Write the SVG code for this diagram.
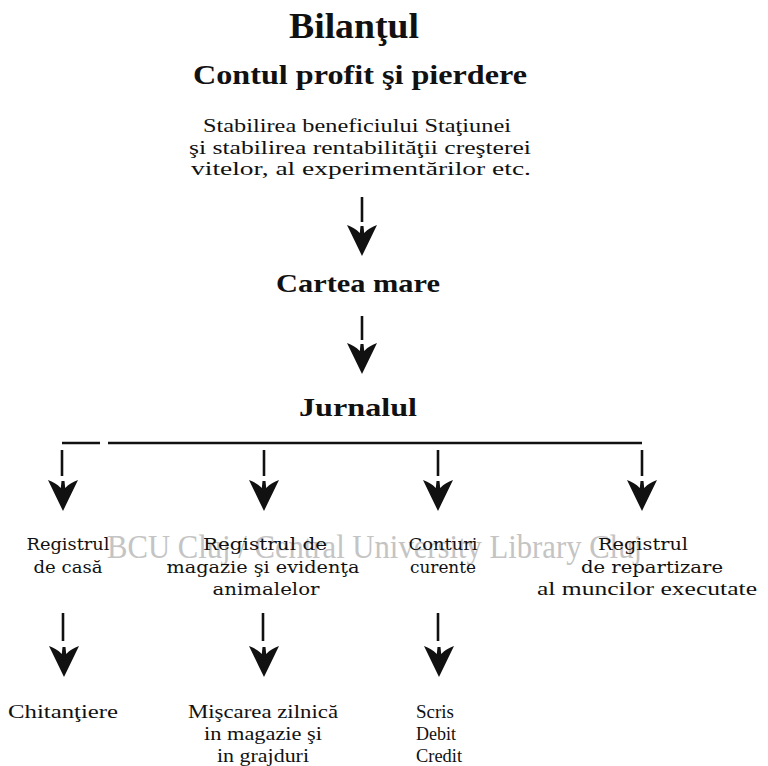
<svg xmlns="http://www.w3.org/2000/svg" xmlns:xlink="http://www.w3.org/1999/xlink" width="768" height="766" viewBox="0 0 768 766">
<style>
text{fill:#111;}
.h{font-family:"Liberation Serif","Times New Roman",serif;font-weight:bold;text-anchor:middle;}
.b{font-family:"Liberation Serif","Times New Roman",serif;font-size:18px;text-anchor:middle;}
.s{text-anchor:start;}
.l{font-family:"DejaVu Serif","Liberation Serif",serif;font-size:16px;text-anchor:middle;}
.wm{font-family:"Liberation Serif","Times New Roman",serif;font-size:34px;fill:#c4c4c4;}
.ln{stroke:#111;stroke-width:2.6;fill:none;}
.hd{fill:#111;}
</style>
<defs>
<path id="ah" d="M0,31 C-5,21 -10,10 -15,0 C-10,2 -6,4 -2.2,8 L-1.5,1 L1.5,1 L2.2,8 C6,4 10,2 15,0 C10,10 5,21 0,31 Z"/>
</defs>
<rect width="768" height="766" fill="#fff"/>
<text class="wm" x="107" y="558" textLength="535" lengthAdjust="spacingAndGlyphs">BCU Cluj / Central University Library Cluj</text>

<g id="bilant"><text class="h" x="354" y="38" font-size="36" textLength="130" lengthAdjust="spacingAndGlyphs">Bilanţul</text></g>
<g id="contul"><text class="h" x="360" y="84" font-size="28" textLength="334" lengthAdjust="spacingAndGlyphs">Contul profit şi pierdere</text></g>
<g id="stabilirea">
<text class="b" x="357" y="132" textLength="308" lengthAdjust="spacingAndGlyphs">Stabilirea beneficiului Staţiunei</text>
<text class="b" x="360" y="154" textLength="342" lengthAdjust="spacingAndGlyphs">şi stabilirea rentabilităţii creşterei</text>
<text class="b" x="361" y="175" textLength="340" lengthAdjust="spacingAndGlyphs">vitelor, al experimentărilor etc.</text>
</g>
<g id="cartea"><text class="h" x="358" y="292" font-size="25" textLength="164" lengthAdjust="spacingAndGlyphs">Cartea mare</text></g>
<g id="jurnalul"><text class="h" x="358" y="416" font-size="25" textLength="118" lengthAdjust="spacingAndGlyphs">Jurnalul</text></g>

<g id="reg-casa">
<text class="l" x="68" y="550" textLength="83" lengthAdjust="spacingAndGlyphs">Registrul</text>
<text class="l" x="68" y="573" textLength="69" lengthAdjust="spacingAndGlyphs">de casă</text>
</g>
<g id="reg-magazie">
<text class="l" x="265" y="550" textLength="124" lengthAdjust="spacingAndGlyphs">Registrul  de</text>
<text class="l" x="263" y="573" textLength="193" lengthAdjust="spacingAndGlyphs">magazie şi evidenţa</text>
<text class="l" x="266" y="595" textLength="107" lengthAdjust="spacingAndGlyphs">animalelor</text>
</g>
<g id="conturi">
<text class="l" x="443" y="550" textLength="69" lengthAdjust="spacingAndGlyphs">Conturi</text>
<text class="l" x="443" y="573" textLength="66" lengthAdjust="spacingAndGlyphs">curente</text>
</g>
<g id="reg-repartizare">
<text class="l" x="643" y="550" textLength="90" lengthAdjust="spacingAndGlyphs">Registrul</text>
<text class="l" x="652" y="573" textLength="142" lengthAdjust="spacingAndGlyphs">de  repartizare</text>
<text class="b" x="647" y="595" textLength="220" lengthAdjust="spacingAndGlyphs">al muncilor executate</text>
</g>
<g id="chitantiere"><text class="b" x="63" y="718" textLength="110" lengthAdjust="spacingAndGlyphs">Chitanţiere</text></g>
<g id="miscarea">
<text class="b" x="263" y="718" textLength="150" lengthAdjust="spacingAndGlyphs">Mişcarea zilnică</text>
<text class="b" x="263" y="740" textLength="118" lengthAdjust="spacingAndGlyphs">in  magazie şi</text>
<text class="b" x="263" y="762" textLength="92" lengthAdjust="spacingAndGlyphs">in grajduri</text>
</g>
<g id="scris">
<text class="b s" x="416" y="718" textLength="38" lengthAdjust="spacingAndGlyphs">Scris</text>
<text class="b s" x="416" y="740" textLength="40" lengthAdjust="spacingAndGlyphs">Debit</text>
<text class="b s" x="416" y="762" textLength="46" lengthAdjust="spacingAndGlyphs">Credit</text>
</g>

<g id="connectors">
<line class="ln" x1="362" y1="197" x2="362" y2="222"/>
<use href="#ah" xlink:href="#ah" class="hd" x="362" y="225"/>
<line class="ln" x1="362" y1="316" x2="362" y2="340"/>
<use href="#ah" xlink:href="#ah" class="hd" x="362" y="343"/>
<line class="ln" x1="62" y1="443" x2="100" y2="443"/>
<line class="ln" x1="108" y1="443" x2="642" y2="443"/>
<line class="ln" x1="62" y1="450" x2="62" y2="476"/>
<use href="#ah" xlink:href="#ah" class="hd" x="63" y="480"/>
<line class="ln" x1="264" y1="450" x2="264" y2="476"/>
<use href="#ah" xlink:href="#ah" class="hd" x="264" y="480"/>
<line class="ln" x1="438" y1="450" x2="438" y2="476"/>
<use href="#ah" xlink:href="#ah" class="hd" x="438" y="480"/>
<line class="ln" x1="642" y1="450" x2="642" y2="476"/>
<use href="#ah" xlink:href="#ah" class="hd" x="642" y="480"/>
<line class="ln" x1="63" y1="613" x2="63" y2="641"/>
<use href="#ah" xlink:href="#ah" class="hd" x="64" y="646"/>
<line class="ln" x1="263" y1="613" x2="263" y2="641"/>
<use href="#ah" xlink:href="#ah" class="hd" x="264" y="646"/>
<line class="ln" x1="438" y1="613" x2="438" y2="641"/>
<use href="#ah" xlink:href="#ah" class="hd" x="439" y="646"/>
</g>
</svg>
